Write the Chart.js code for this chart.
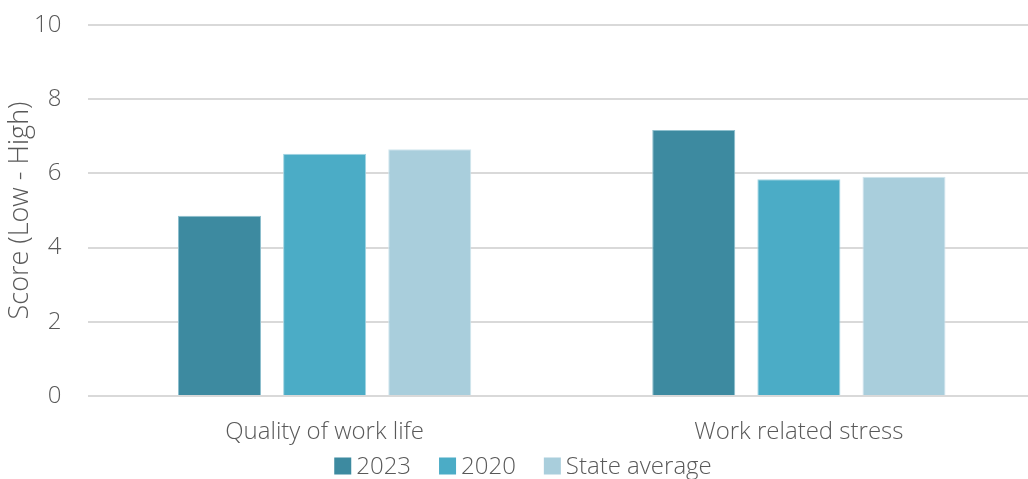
<!DOCTYPE html>
<html>
<head>
<meta charset="utf-8">
<script src="https://cdn.jsdelivr.net/npm/chart.js@4/dist/chart.umd.min.js"></script>
<style>
  html, body { margin: 0; padding: 0; background: #fff; overflow: hidden; }
  #wrap { width: 1028px; height: 479px; overflow: hidden; }
</style>
</head>
<body>
<div id="wrap"><canvas id="chart" width="1036" height="479"></canvas></div>
<script>
// Categorias y series
var categorias = ['Quality of work life', 'Work related stress'];
var serie2023 = [4.86, 7.17];
var serie2020 = [6.53, 5.84];
var promedioEstado = [6.65, 5.91];
var ticksY = [0, 2, 4, 6, 8, 10];

var colores = {
  c2023: '#3D8AA0',
  c2020: '#4BACC6',
  estado: '#A9CEDC',
  texto: '#595959',
  grid: '#D9D9D9'
};

var fuente = { family: "'Open Sans', sans-serif", size: 24, weight: '300' };
var fuenteTitulo = { family: "'Open Sans', sans-serif", size: 27, weight: '300' };

// Leyenda propia: cuadro pegado al texto, centrada abajo
var leyendaAbajo = {
  id: 'leyendaAbajo',
  afterDraw: function(chart) {
    var c = chart.ctx;
    var caja = 17, hueco = 5, separacion = 28, yCentro = 466, xCentro = 523;
    c.save();
    c.font = fuente.weight + ' ' + fuente.size + 'px ' + fuente.family;
    c.textBaseline = 'middle';
    var items = chart.data.datasets.map(function(ds) {
      return { texto: ds.label, color: ds.backgroundColor, ancho: c.measureText(ds.label).width };
    });
    var total = 0;
    items.forEach(function(it, i) {
      total += caja + hueco + it.ancho + (i < items.length - 1 ? separacion : 0);
    });
    var x = xCentro - total / 2;
    items.forEach(function(it) {
      c.fillStyle = it.color;
      c.fillRect(x, yCentro - caja / 2, caja, caja);
      c.fillStyle = colores.texto;
      c.fillText(it.texto, x + caja + hueco, yCentro + 1);
      x += caja + hueco + it.ancho + separacion;
    });
    c.restore();
  }
};

var ctx = document.getElementById('chart').getContext('2d');
new Chart(ctx, {
  type: 'bar',
  data: {
    labels: categorias,
    datasets: [
      { label: '2023', data: serie2023, backgroundColor: colores.c2023, borderColor: '#8FC0CE', borderWidth: 1 },
      { label: '2020', data: serie2020, backgroundColor: colores.c2020, borderColor: '#A2D4E2', borderWidth: 1 },
      { label: 'State average', data: promedioEstado, backgroundColor: colores.estado, borderColor: '#D2E6EE', borderWidth: 1 }
    ]
  },
  plugins: [leyendaAbajo],
  options: {
    responsive: false,
    animation: false,
    layout: { padding: { left: 4, right: 0, top: 25, bottom: 0 } },
    datasets: { bar: { categoryPercentage: 0.665, barPercentage: 0.79 } },
    plugins: {
      tooltip: { enabled: false },
      legend: { display: false }
    },
    scales: {
      x: {
        grid: { display: false },
        border: { display: false },
        ticks: { color: colores.texto, font: fuente, padding: 14 },
        afterFit: function(axis) { axis.height = 83; }
      },
      y: {
        min: 0,
        max: 10,
        afterBuildTicks: function(axis) {
          axis.ticks = ticksY.map(function(v) { return { value: v }; });
        },
        grid: { color: colores.grid, lineWidth: 2, drawTicks: false },
        border: { display: false },
        ticks: { color: colores.texto, font: fuente, padding: 26 },
        title: {
          display: true,
          text: 'Score (Low - High)',
          color: colores.texto,
          font: fuenteTitulo,
          padding: { top: 0, bottom: 0 }
        },
        afterFit: function(axis) {
          axis.width = 83.5;
          axis.paddingTop = 0;
          axis.paddingBottom = 0;
        }
      }
    }
  }
});
</script>
</body>
</html>
